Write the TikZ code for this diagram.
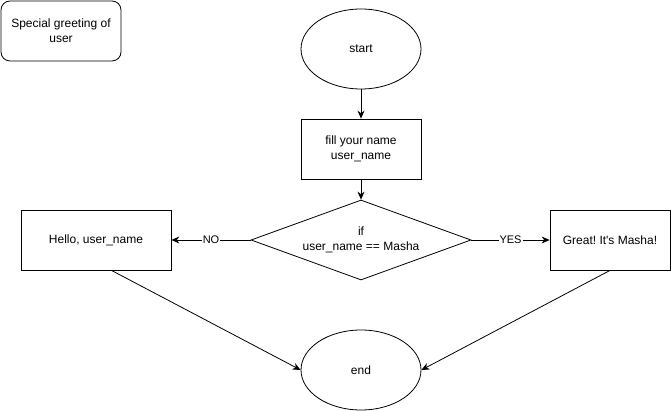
\documentclass[tikz,border=0pt]{standalone}
\usepackage{fontspec}
\setmainfont{Liberation Sans}
\usetikzlibrary{arrows.meta,shapes.geometric}
\frenchspacing

\tikzstyle{block}=[rectangle,draw,line width=0.8pt,minimum width=120pt,minimum height=60pt,align=center,inner sep=2pt,font=\fontsize{12}{15}\selectfont]
\tikzstyle{terminal}=[ellipse,draw,line width=0.8pt,minimum width=120pt,minimum height=80pt,inner sep=0pt,font=\fontsize{12}{15}\selectfont]
\tikzstyle{decision}=[diamond,draw,line width=0.8pt,minimum width=220pt,minimum height=80pt,aspect=2.75,inner sep=0pt,align=center,font=\fontsize{12}{15}\selectfont]
\tikzstyle{flow} = [draw,line width=0.8pt,-{Stealth[length=8pt,width=7pt]}]
\tikzstyle{answer} = [fill=white,inner sep=1pt,font=\fontsize{11}{13}\selectfont]

\begin{document}
\begin{tikzpicture}[x=1pt,y=-1pt]
			\useasboundingbox (0,0) rectangle (671,411);
			\node[block,rounded corners=9pt] (title) at (61,31) {Special greeting of\\user};
			\node[terminal] (start) at (361,49) {start};
			\node[block] (fill) at (361,149) {fill your name\\user\_name};
			\node[decision] (check) at (361,240) {if\\user\_name == Masha};
			\node[block,minimum width=150pt] (hello) at (96,240) {Hello, user\_name};
			\node[block] (great) at (610,240) {Great! It\textquotesingle s Masha!};
			\node[terminal] (end) at (361,370) {end};
	   		 % Connect the steps
	   		 \foreach \source/ \dest in {start/fill, fill/check, hello.-63/end.west, great.south/end.east}
			 \path[flow] (\source) -- (\dest);
			 \path[flow] (check.west) -- node[answer] {NO} (hello.east);
			 \path[flow] (check.east) -- node[answer] {YES} (great.west);
		\end{tikzpicture}
\end{document}
